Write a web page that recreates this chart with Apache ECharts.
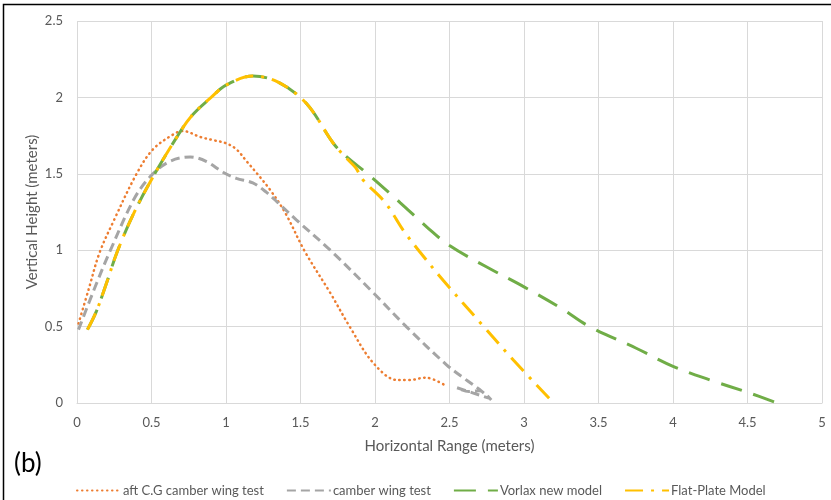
<!DOCTYPE html>
<html>
<head>
<meta charset="utf-8">
<script src="https://cdn.jsdelivr.net/npm/echarts@6/dist/echarts.min.js"></script>
<style>
html,body{margin:0;padding:0;background:#fff;}
#c{width:831px;height:500px;}
</style>
</head>
<body>
<div id="c"></div>
<script>
const seriesNames = ['aft C.G camber wing test', 'camber wing test', 'Vorlax new model', 'Flat-Plate Model'];

const aftX = [0.01,0.08,0.15,0.25,0.40,0.51,0.65,0.71,0.83,0.915,1.0,1.07,1.14,1.21,1.30,1.40,1.53,1.70,1.83,1.99,2.15,2.23,2.34,2.48];
const aftY = [0.52,0.75,0.98,1.20,1.50,1.66,1.76,1.78,1.74,1.72,1.70,1.66,1.58,1.50,1.39,1.24,0.99,0.72,0.50,0.26,0.15,0.15,0.166,0.11];

const camX = [0.01,0.13,0.22,0.38,0.49,0.62,0.76,0.87,0.98,1.07,1.18,1.27,1.35,1.47,1.70,1.99,2.21,2.48,2.60,2.70,2.77,2.55,2.63,2.70,2.78];
const camY = [0.48,0.78,0.99,1.33,1.48,1.58,1.61,1.58,1.51,1.47,1.44,1.38,1.31,1.20,1.00,0.72,0.50,0.25,0.16,0.09,0.03,0.10,0.075,0.08,0.02];

const vorX = [0.07,0.13,0.20,0.27,0.38,0.51,0.67,0.77,0.90,1.0,1.18,1.35,1.54,1.72,1.81,1.95,2.17,2.35,2.5,2.75,3.0,3.25,3.44,3.75,4.0,4.25,4.5,4.7];
const vorY = [0.48,0.60,0.79,0.99,1.24,1.48,1.74,1.88,2.0,2.08,2.14,2.10,1.96,1.70,1.61,1.50,1.31,1.15,1.03,0.89,0.76,0.62,0.50,0.36,0.24,0.15,0.07,0.0];

const flatX = [0.07,0.13,0.20,0.27,0.38,0.51,0.67,0.77,0.90,1.0,1.18,1.35,1.54,1.72,1.81,1.87,1.92,2.07,2.19,2.30,2.46,2.73,2.93,3.17];
const flatY = [0.48,0.60,0.79,0.99,1.24,1.48,1.74,1.88,2.0,2.08,2.14,2.10,1.96,1.70,1.60,1.54,1.46,1.31,1.13,0.99,0.80,0.50,0.28,0.03];

const xTicks = [0,0.5,1,1.5,2,2.5,3,3.5,4,4.5,5];
const yTicks = [0,0.5,1,1.5,2,2.5];

function pairs(xs, ys){ return xs.map((x,i)=>[x, ys[i]]); }

const FONT = 'Lato, "Liberation Sans", sans-serif';
const chart = echarts.init(document.getElementById('c'), null, {renderer:'canvas'});

const styles = [
  {color:'#ED7D31', type:[0.5,4.5], cap:'round', width:2.5},
  {color:'#A5A5A5', type:[9,5], cap:'butt', width:3},
  {color:'#70AD47', type:[22,12], cap:'butt', width:3},
  {color:'#FFC000', type:[18,8,3,8], cap:'butt', width:3}
];
const datas = [pairs(aftX,aftY), pairs(camX,camY), pairs(vorX,vorY), pairs(flatX,flatY)];

chart.setOption({
  animation:false,
  backgroundColor:'#fff',
  textStyle:{fontFamily:FONT},
  grid:{left:77, right:9, top:21, bottom:97, containLabel:false},
  xAxis:{
    type:'value', min:0, max:5, interval:0.5,
    name:'Horizontal Range (meters)', nameLocation:'middle', nameGap:36,
    nameTextStyle:{color:'#595959', fontSize:15, fontFamily:FONT},
    axisLine:{show:true, lineStyle:{color:'#D9D9D9', width:1}},
    axisTick:{show:false},
    axisLabel:{color:'#595959', fontSize:13, margin:13, fontFamily:FONT,
      formatter:v=>String(v)},
    splitLine:{show:true, lineStyle:{color:'#D9D9D9', width:1}}
  },
  yAxis:{
    type:'value', min:0, max:2.5, interval:0.5,
    name:'Vertical Height (meters)', nameLocation:'middle', nameGap:37, nameRotate:90,
    nameMoveOverlap:false,
    nameTextStyle:{color:'#595959', fontSize:15, fontFamily:FONT},
    axisLine:{show:false},
    axisTick:{show:false},
    axisLabel:{color:'#595959', fontSize:13, margin:14, fontFamily:FONT,
      formatter:v=>String(v)},
    splitLine:{show:true, lineStyle:{color:'#D9D9D9', width:1}}
  },
  legend:{
    left:71, top:479, itemWidth:44, itemHeight:12, itemGap:22,
    itemStyle:{opacity:0},
    textStyle:{color:'#595959', fontSize:13, fontFamily:FONT, padding:[0,0,0,-3]},
    data:seriesNames
  },
  graphic:[
    {type:'polyline', shape:{points:[[3.5,500],[3.5,4.5],[831,4.5]]}, style:{fill:'none', stroke:'#000', lineWidth:1.5}, silent:true},
    {type:'text', left:14, top:451, style:{text:'(b)', fill:'#000', font:'26px '+FONT}}
  ],
  series: seriesNames.map((n,i)=>({
    name:n, type:'line', data:datas[i], smooth:0.35, showSymbol:false, symbol:'none',
    itemStyle:{color:styles[i].color},
    lineStyle:{color:styles[i].color, width:styles[i].width, type:styles[i].type, cap:styles[i].cap},
    z:2+i
  }))
});
</script>
</body>
</html>
